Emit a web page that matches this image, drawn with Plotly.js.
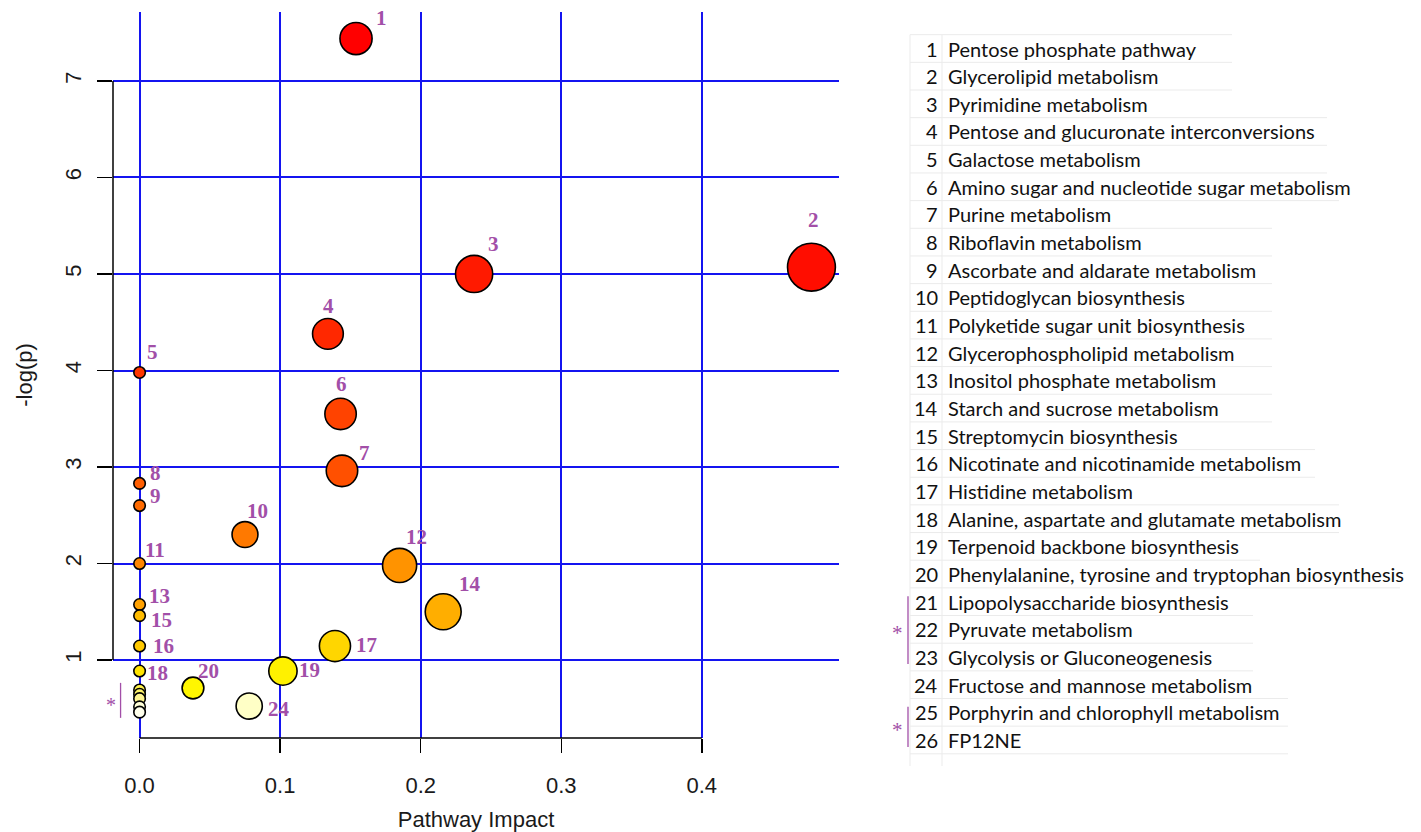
<!DOCTYPE html>
<html><head><meta charset="utf-8">
<script src="https://cdn.plot.ly/plotly-3.0.1.min.js"></script>
<style>html,body{margin:0;padding:0;background:#fff}#chart{width:1421px;height:832px}</style>
</head><body><div id="chart"></div>
<script>
// ---------------- data ----------------
const pathwayIds = [1,2,3,4,5,6,7,8,9,10,11,12,13,14,15,16,17,18,19,20,21,22,23,24,25,26];
const pathwayNames = [
  "Pentose phosphate pathway",
  "Glycerolipid metabolism",
  "Pyrimidine metabolism",
  "Pentose and glucuronate interconversions",
  "Galactose metabolism",
  "Amino sugar and nucleotide sugar metabolism",
  "Purine metabolism",
  "Riboflavin metabolism",
  "Ascorbate and aldarate metabolism",
  "Peptidoglycan biosynthesis",
  "Polyketide sugar unit biosynthesis",
  "Glycerophospholipid metabolism",
  "Inositol phosphate metabolism",
  "Starch and sucrose metabolism",
  "Streptomycin biosynthesis",
  "Nicotinate and nicotinamide metabolism",
  "Histidine metabolism",
  "Alanine, aspartate and glutamate metabolism",
  "Terpenoid backbone biosynthesis",
  "Phenylalanine, tyrosine and tryptophan biosynthesis",
  "Lipopolysaccharide biosynthesis",
  "Pyruvate metabolism",
  "Glycolysis or Gluconeogenesis",
  "Fructose and mannose metabolism",
  "Porphyrin and chlorophyll metabolism",
  "FP12NE"
];
const pathwayImpact = [0.154, 0.478, 0.238, 0.134, 0, 0.143, 0.144, 0, 0, 0.075, 0, 0.185, 0, 0.216, 0, 0, 0.139, 0, 0.102, 0.038, 0, 0, 0, 0.078, 0, 0];
const negLogP = [7.44, 5.07, 5.00, 4.38, 3.98, 3.55, 2.96, 2.83, 2.60, 2.30, 2.00, 1.98, 1.575, 1.50, 1.46, 1.145, 1.145, 0.886, 0.886, 0.71, 0.69, 0.645, 0.60, 0.523, 0.515, 0.46];
const xTicks = [0, 0.1, 0.2, 0.3, 0.4];
const xTickLabels = ["0.0", "0.1", "0.2", "0.3", "0.4"];
const yTicks = [1, 2, 3, 4, 5, 6, 7];
const yTickLabels = ["1", "2", "3", "4", "5", "6", "7"];
const starGroups = [[21, 22, 23], [25, 26]];   // pathways flagged with "*"

// ---------------- style ----------------
const fillColors = ["#FF0000","#FF0D00","#FF1A00","#FF2800","#FF3600","#FF4300","#FF5000","#FF5E00","#FF6B00","#FF7900",
  "#FF8600","#FF9300","#FFA100","#FFAE00","#FFBC00","#FFC900","#FFD600","#FFE400","#FFF100","#FFF600",
  "#FFF24A","#FFF46A","#FFF690","#FFFFC6","#FFFFD8","#FFFFEC"];
// label pixel offsets [dx, dy(up)]; null = no label
const labelShift = [[25,21],[2,47],[19,30],[1,28],[13,20],[1,30],[23,18],[16,10],[16,10],[13,24],
  [15,14],[17,28],[20,9],[27,28],[22,-4],[24,0],[32,1],[18,-2],[27,1],[16,17],
  null,null,null,[30,-3],null,null];
const rowLineEnds = [1232,1232,1232,1327,1327,1327,1339,1272,1272,1272,1272,1272,1272,1272,1272,1315,1315,1339,1339,1260,1400,1253,1253,1253,1288,1288,1288];
const purple = "#A24FA8";
const gridBlue = "#1414F0";
const tickFont = {family: "Liberation Sans, Arial, sans-serif", size: 22, color: "#1a1a1a"};

const W = 1421, H = 832, ML = 113, MT = 12, MB = 60;
const plotW = 726;
const paperW = W - ML;

const sizes = pathwayImpact.map(v => 2 * (5.75 + 26.3 * Math.sqrt(v)));

const traces = [{
  type: "scatter", mode: "markers", x: pathwayImpact, y: negLogP,
  text: pathwayNames, hoverinfo: "text+x+y", cliponaxis: false, showlegend: false,
  marker: {size: sizes, sizemode: "diameter", color: fillColors, opacity: 1, line: {color: "#000", width: 1.6}}
}];

const annotations = [];
const shapes = [];

// point labels
pathwayIds.forEach((id, i) => {
  const s = labelShift[i];
  if (!s) return;
  annotations.push({xref: "x", yref: "y", x: pathwayImpact[i], y: negLogP[i], text: String(id), showarrow: false,
    xanchor: "center", yanchor: "middle", xshift: s[0], yshift: s[1],
    font: {family: "Liberation Serif, Times New Roman, serif", size: 21, color: purple, weight: "bold"}});
});

// asterisk bracket in plot for all flagged pathways
const flagged = starGroups.flat().map(id => pathwayIds.indexOf(id));
const flagY = flagged.map(i => negLogP[i]);
const flagMid = flagY.reduce((a, b) => a + b, 0) / flagY.length;
const flagX = pathwayImpact[flagged[0]];
shapes.push({type: "line", xref: "x", yref: "y", xsizemode: "pixel", ysizemode: "pixel",
  xanchor: flagX, yanchor: flagMid, x0: -19, x1: -19, y0: -17.5, y1: 17.5, line: {color: purple, width: 1.3}});
annotations.push({xref: "x", yref: "y", x: flagX, y: flagMid, text: "*", showarrow: false, xshift: -29, yshift: -5,
  font: {family: "Liberation Serif, Times New Roman, serif", size: 20, color: purple}});

// black R-style axis lines spanning tick range
shapes.push({type: "line", xref: "x domain", yref: "y", x0: 0, x1: 0, y0: Math.min(...yTicks), y1: Math.max(...yTicks), line: {color: "#000", width: 1.5}});
shapes.push({type: "line", xref: "x", yref: "y domain", x0: Math.min(...xTicks), x1: Math.max(...xTicks), y0: 0, y1: 0, line: {color: "#000", width: 1.5}});

// ---------------- table (legend) ----------------
const tableFont = {family: "Lato, Carlito, Calibri, sans-serif", size: 20, color: "#111"};
pathwayIds.forEach((id, i) => {
  const r = i + 1;
  annotations.push({xref: "x2", yref: "y2", x: 940, y: r, text: String(id), showarrow: false, xanchor: "right", yanchor: "middle", font: tableFont});
  annotations.push({xref: "x2", yref: "y2", x: 946, y: r, text: pathwayNames[i], showarrow: false, xanchor: "left", yanchor: "middle", font: tableFont});
});
rowLineEnds.forEach((xe, k) => {
  shapes.push({type: "line", xref: "x2", yref: "y2", x0: 910, x1: xe, y0: k + 0.5, y1: k + 0.5, line: {color: "#ebebeb", width: 1}, layer: "below"});
});
[910, 942].forEach(xv => shapes.push({type: "line", xref: "x2", yref: "y2", x0: xv, x1: xv, y0: 0.5, y1: pathwayIds.length + 0.94, line: {color: "#ebebeb", width: 1}, layer: "below"}));
starGroups.forEach(g => {
  const rows = g.map(id => pathwayIds.indexOf(id) + 1);
  const r0 = Math.min(...rows), r1 = Math.max(...rows);
  shapes.push({type: "line", xref: "x2", yref: "y2", x0: 908, x1: 908, y0: r0 - 0.2, y1: r1 + 0.25, line: {color: purple, width: 1.3}});
  annotations.push({xref: "x2", yref: "y2", x: 897, y: (r0 + r1) / 2, text: "*", showarrow: false, xanchor: "center", yanchor: "middle", yshift: -4,
    font: {family: "Liberation Serif, Times New Roman, serif", size: 21, color: purple}});
});

const rowPx0 = 48.5, rowStep = 27.66;
const layout = {
  width: W, height: H, paper_bgcolor: "#fff", plot_bgcolor: "#fff", showlegend: false,
  margin: {l: ML, r: 0, t: MT, b: MB, pad: 0},
  xaxis: {domain: [0, plotW / paperW], range: [-0.0189, 0.4976], tickvals: xTicks, ticktext: xTickLabels,
    showgrid: true, gridcolor: gridBlue, gridwidth: 2, zeroline: false, showline: false,
    ticks: "outside", ticklen: 14, tickwidth: 1.5, tickcolor: "#000", tickfont: tickFont, ticklabelstandoff: 14,
    title: {text: "Pathway Impact", font: tickFont, standoff: 18}, automargin: false, fixedrange: true},
  yaxis: {domain: [(772 - 738) / 760, 1], range: [0.1921, 7.7147], tickvals: yTicks, ticktext: yTickLabels,
    showgrid: true, gridcolor: gridBlue, gridwidth: 2, zeroline: false, showline: false, tickangle: -90,
    ticks: "outside", ticklen: 15, tickwidth: 1.5, tickcolor: "#000", tickfont: tickFont, ticklabelstandoff: 7,
    title: {text: "-log(p)", font: tickFont, standoff: 22}, automargin: false, fixedrange: true},
  xaxis2: {domain: [plotW / paperW, 1], range: [ML + plotW, W], visible: false, anchor: "y2", fixedrange: true},
  yaxis2: {domain: [0, 1], range: [1 + (MT + 760 - rowPx0) / rowStep, 1 - (rowPx0 - MT) / rowStep], visible: false, anchor: "x2", fixedrange: true},
  annotations: annotations, shapes: shapes
};

Plotly.newPlot("chart", traces, layout, {displayModeBar: false, staticPlot: true});
</script></body></html>
